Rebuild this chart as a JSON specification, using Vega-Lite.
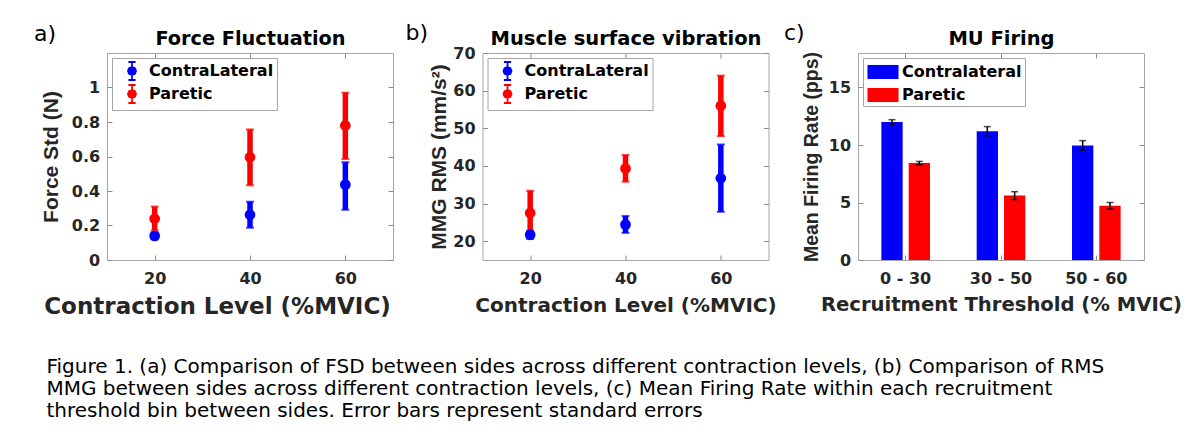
{
  "$schema": "https://vega.github.io/schema/vega-lite/v6.json",
  "background": "white",
  "padding": {"left": 33, "top": 21, "right": 0, "bottom": 0},
  "datasets": {
    "force": [
      {"level": 20, "side": "ContraLateral", "mean": 0.14, "lo": 0.12, "hi": 0.16},
      {"level": 40, "side": "ContraLateral", "mean": 0.262, "lo": 0.187, "hi": 0.338},
      {"level": 60, "side": "ContraLateral", "mean": 0.437, "lo": 0.291, "hi": 0.567},
      {"level": 20, "side": "Paretic", "mean": 0.239, "lo": 0.172, "hi": 0.31},
      {"level": 40, "side": "Paretic", "mean": 0.596, "lo": 0.433, "hi": 0.757},
      {"level": 60, "side": "Paretic", "mean": 0.78, "lo": 0.585, "hi": 0.97}
    ],
    "mmg": [
      {"level": 20, "side": "ContraLateral", "mean": 21.7, "lo": 20.6, "hi": 22.8},
      {"level": 40, "side": "ContraLateral", "mean": 24.4, "lo": 22.2, "hi": 26.7},
      {"level": 60, "side": "ContraLateral", "mean": 36.7, "lo": 27.8, "hi": 45.7},
      {"level": 20, "side": "Paretic", "mean": 27.5, "lo": 21.6, "hi": 33.4},
      {"level": 40, "side": "Paretic", "mean": 39.3, "lo": 35.8, "hi": 42.9},
      {"level": 60, "side": "Paretic", "mean": 56.0, "lo": 47.9, "hi": 64.0}
    ],
    "firing": [
      {"bin": "0 - 30", "side": "Contralateral", "mean": 12.0, "lo": 11.8, "hi": 12.2},
      {"bin": "30 - 50", "side": "Contralateral", "mean": 11.2, "lo": 10.8, "hi": 11.6},
      {"bin": "50 - 60", "side": "Contralateral", "mean": 9.95, "lo": 9.55, "hi": 10.38},
      {"bin": "0 - 30", "side": "Paretic", "mean": 8.43, "lo": 8.28, "hi": 8.57},
      {"bin": "30 - 50", "side": "Paretic", "mean": 5.6, "lo": 5.25, "hi": 5.94},
      {"bin": "50 - 60", "side": "Paretic", "mean": 4.72, "lo": 4.43, "hi": 5.0}
    ]
  },
  "title": {
    "text": [
      "Figure 1. (a) Comparison of FSD between sides across different contraction levels, (b) Comparison of RMS",
      "MMG between sides across different contraction levels, (c) Mean Firing Rate within each recruitment",
      "threshold bin between sides. Error bars represent standard errors"
    ],
    "orient": "bottom",
    "anchor": "start",
    "frame": "bounds",
    "font": "DejaVu Sans",
    "fontSize": 20,
    "fontWeight": "normal",
    "lineHeight": 22,
    "color": "#000000",
    "dx": 13,
    "offset": 38
  },
  "bounds": "flush",
  "spacing": 89.5,
  "resolve": {"scale": {"color": "independent"}, "legend": {"color": "independent"}},
  "hconcat": [
    {
      "width": 286,
      "height": 207,
      "title": {"text": "a)", "anchor": "start", "frame": "group", "dx": -73, "dy": 20, "font": "DejaVu Sans", "fontSize": 22, "fontWeight": "normal", "color": "#000000"},
      "data": {"name": "force"},
      "layer": [
        {
          "mark": {"type": "rule", "strokeWidth": 5.5},
          "encoding": {
            "x": {"field": "level", "type": "quantitative", "scale": {"domain": [10, 70], "nice": false}, "axis": {"orient": "bottom", "values": [20, 40, 60], "title": "Contraction Level (%MVIC)", "titleFontSize": 23, "titleX": 110}},
            "y": {"field": "lo", "type": "quantitative", "scale": {"domain": [0, 1.2], "nice": false}, "axis": {"orient": "left", "values": [0, 0.2, 0.4, 0.6, 0.8, 1], "format": "~g", "title": "Force Std (N)", "titlePadding": 10}},
            "y2": {"field": "hi"},
            "color": {"field": "side", "type": "nominal", "scale": {"domain": ["ContraLateral", "Paretic"], "range": ["#0000ff", "#ff0000"]},
              "legend": {"title": null, "orient": "top-left", "offset": 5, "symbolType": "M0,-1L0,1M-0.4,-1L0.4,-1M-0.4,1L0.4,1M0.45,0L0.32,0.32L0,0.45L-0.32,0.32L-0.45,0L-0.32,-0.32L0,-0.45L0.32,-0.32Z", "symbolSize": 324, "symbolStrokeWidth": 1.8, "symbolOffset": 7, "labelOffset": 7, "rowPadding": -7,
                "encode": {"symbols": {"update": {"fill": {"value": "white"}, "stroke": {"signal": "datum.value === 'Paretic' ? '#ff0000' : '#0000ff'"}, "strokeWidth": {"value": 1.8}}}}}}
          }
        },
        {
          "mark": {"type": "tick", "orient": "horizontal", "thickness": 2, "size": 8},
          "encoding": {
            "x": {"field": "level", "type": "quantitative", "axis": null},
            "y": {"field": "hi", "type": "quantitative", "axis": null},
            "color": {"field": "side", "type": "nominal"}
          }
        },
        {
          "mark": {"type": "tick", "orient": "horizontal", "thickness": 2, "size": 8},
          "encoding": {
            "x": {"field": "level", "type": "quantitative", "axis": null},
            "y": {"field": "lo", "type": "quantitative", "axis": null},
            "color": {"field": "side", "type": "nominal"}
          }
        },
        {
          "mark": {"type": "point", "filled": true, "size": 115, "opacity": 1},
          "encoding": {
            "x": {"field": "level", "type": "quantitative", "axis": {"orient": "top", "values": [20, 40, 60], "labels": false, "title": "Force Fluctuation", "titleFontSize": 19.3}},
            "y": {"field": "mean", "type": "quantitative", "axis": {"orient": "right", "values": [0, 0.2, 0.4, 0.6, 0.8, 1], "labels": false, "title": null}},
            "color": {"field": "side", "type": "nominal"}
          }
        }
      ],
      "resolve": {"axis": {"x": "independent", "y": "independent"}}
    },
    {
      "width": 286,
      "height": 207,
      "title": {"text": "b)", "anchor": "start", "frame": "group", "dx": -77, "dy": 20, "font": "DejaVu Sans", "fontSize": 22, "fontWeight": "normal", "color": "#000000"},
      "data": {"name": "mmg"},
      "layer": [
        {
          "mark": {"type": "rule", "strokeWidth": 5.5},
          "encoding": {
            "x": {"field": "level", "type": "quantitative", "scale": {"domain": [10, 70], "nice": false}, "axis": {"orient": "bottom", "values": [20, 40, 60], "title": "Contraction Level (%MVIC)", "titleFontSize": 20}},
            "y": {"field": "lo", "type": "quantitative", "scale": {"domain": [15, 70], "nice": false, "zero": false}, "axis": {"orient": "left", "values": [20, 30, 40, 50, 60, 70], "title": "MMG RMS (mm/s²)", "titlePadding": 3}},
            "y2": {"field": "hi"},
            "color": {"field": "side", "type": "nominal", "scale": {"domain": ["ContraLateral", "Paretic"], "range": ["#0000ff", "#ff0000"]},
              "legend": {"title": null, "orient": "top-left", "offset": 5, "symbolType": "M0,-1L0,1M-0.4,-1L0.4,-1M-0.4,1L0.4,1M0.45,0L0.32,0.32L0,0.45L-0.32,0.32L-0.45,0L-0.32,-0.32L0,-0.45L0.32,-0.32Z", "symbolSize": 324, "symbolStrokeWidth": 1.8, "symbolOffset": 7, "labelOffset": 7, "rowPadding": -7,
                "encode": {"symbols": {"update": {"fill": {"value": "white"}, "stroke": {"signal": "datum.value === 'Paretic' ? '#ff0000' : '#0000ff'"}, "strokeWidth": {"value": 1.8}}}}}}
          }
        },
        {
          "mark": {"type": "tick", "orient": "horizontal", "thickness": 2, "size": 8},
          "encoding": {
            "x": {"field": "level", "type": "quantitative", "axis": null},
            "y": {"field": "hi", "type": "quantitative", "axis": null},
            "color": {"field": "side", "type": "nominal"}
          }
        },
        {
          "mark": {"type": "tick", "orient": "horizontal", "thickness": 2, "size": 8},
          "encoding": {
            "x": {"field": "level", "type": "quantitative", "axis": null},
            "y": {"field": "lo", "type": "quantitative", "axis": null},
            "color": {"field": "side", "type": "nominal"}
          }
        },
        {
          "mark": {"type": "point", "filled": true, "size": 115, "opacity": 1},
          "encoding": {
            "x": {"field": "level", "type": "quantitative", "axis": {"orient": "top", "values": [20, 40, 60], "labels": false, "title": "Muscle surface vibration", "titleFontSize": 19.5}},
            "y": {"field": "mean", "type": "quantitative", "axis": {"orient": "right", "values": [20, 30, 40, 50, 60, 70], "labels": false, "title": null}},
            "color": {"field": "side", "type": "nominal"}
          }
        }
      ],
      "resolve": {"axis": {"x": "independent", "y": "independent"}}
    },
    {
      "width": 286,
      "height": 207,
      "title": {"text": "c)", "anchor": "start", "frame": "group", "dx": -74, "dy": 20, "font": "DejaVu Sans", "fontSize": 22, "fontWeight": "normal", "color": "#000000"},
      "data": {"name": "firing"},
      "layer": [
        {
          "mark": {"type": "bar"},
          "encoding": {
            "x": {"field": "bin", "type": "nominal", "sort": ["0 - 30", "30 - 50", "50 - 60"], "scale": {"paddingInner": 0.49, "paddingOuter": 0.245}, "axis": {"orient": "bottom", "labelAngle": 0, "title": "Recruitment Threshold (% MVIC)", "titleFontSize": 19.6}},
            "xOffset": {"field": "side", "type": "nominal", "sort": ["Contralateral", "Paretic"], "scale": {"paddingInner": 0.22, "paddingOuter": 0}},
            "y": {"field": "mean", "type": "quantitative", "scale": {"domain": [0, 18], "nice": false}, "axis": {"orient": "left", "values": [0, 5, 10, 15], "title": "Mean Firing Rate (pps)", "titleFontSize": 19.5}},
            "color": {"field": "side", "type": "nominal", "scale": {"domain": ["Contralateral", "Paretic"], "range": ["#0000ff", "#ff0000"]},
              "legend": {"title": null, "orient": "top-left", "offset": 5, "symbolType": "M-1.41,-0.64L1.41,-0.64L1.41,0.64L-1.41,0.64Z", "symbolSize": 484, "symbolStrokeWidth": 0, "symbolOffset": 6, "labelOffset": 8, "rowPadding": 4}}
          }
        },
        {
          "mark": {"type": "rule", "color": "#000000", "strokeWidth": 1.5},
          "encoding": {
            "x": {"field": "bin", "type": "nominal", "sort": ["0 - 30", "30 - 50", "50 - 60"], "axis": {"orient": "top", "labels": false, "title": "MU Firing", "titleFontSize": 19.5}},
            "xOffset": {"field": "side", "type": "nominal", "sort": ["Contralateral", "Paretic"]},
            "y": {"field": "lo", "type": "quantitative", "axis": {"orient": "right", "values": [0, 5, 10, 15], "labels": false, "title": null}},
            "y2": {"field": "hi"}
          }
        },
        {
          "mark": {"type": "tick", "orient": "horizontal", "color": "#000000", "thickness": 1.5, "size": 7},
          "encoding": {
            "x": {"field": "bin", "type": "nominal", "sort": ["0 - 30", "30 - 50", "50 - 60"], "axis": null},
            "xOffset": {"field": "side", "type": "nominal", "sort": ["Contralateral", "Paretic"]},
            "y": {"field": "hi", "type": "quantitative", "axis": null}
          }
        },
        {
          "mark": {"type": "tick", "orient": "horizontal", "color": "#000000", "thickness": 1.5, "size": 7},
          "encoding": {
            "x": {"field": "bin", "type": "nominal", "sort": ["0 - 30", "30 - 50", "50 - 60"], "axis": null},
            "xOffset": {"field": "side", "type": "nominal", "sort": ["Contralateral", "Paretic"]},
            "y": {"field": "lo", "type": "quantitative", "axis": null}
          }
        }
      ],
      "resolve": {"axis": {"x": "independent", "y": "independent"}}
    }
  ],
  "config": {
    "view": {"stroke": "#a6a6a6", "strokeWidth": 1},
    "axis": {"domain": false, "grid": false, "tickSize": -5, "tickColor": "#8c8c8c", "tickWidth": 1, "labelFont": "DejaVu Sans", "labelFontWeight": "bold", "labelFontSize": 16, "labelColor": "#262626", "titleFontWeight": "bold", "titleColor": "#262626"},
    "axisBottom": {"labelPadding": 15.7, "titleFont": "DejaVu Sans", "titleFontSize": 21, "titlePadding": 9},
    "axisLeft": {"labelPadding": 12.4, "titleFont": "Liberation Sans", "titleFontSize": 21, "titlePadding": 7},
    "axisTop": {"labels": false, "titleFont": "DejaVu Sans", "titleFontSize": 18, "titleColor": "#000000", "titlePadding": 4},
    "axisRight": {"labels": false},
    "legend": {"labelFont": "DejaVu Sans", "labelFontWeight": "bold", "labelFontSize": 16, "labelColor": "#000000", "padding": 3, "strokeColor": "#a6a6a6", "fillColor": "white"}
  }
}
